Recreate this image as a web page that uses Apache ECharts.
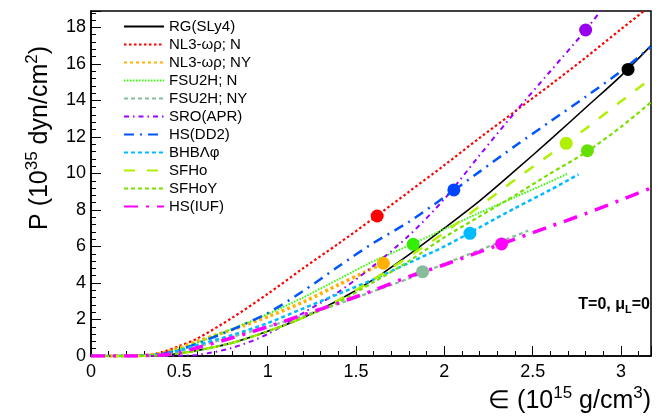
<!DOCTYPE html>
<html><head><meta charset="utf-8">
<script src="https://cdn.jsdelivr.net/npm/echarts@6/dist/echarts.min.js"></script>
<style>html,body{margin:0;padding:0;background:#fff}#c{width:665px;height:416px}</style>
</head><body><div id="c"></div>
<script>
// ---- data (x: energy density 1e15 g/cm^3, y: pressure 1e35 dyn/cm^2) ----
const seriesNames = ['RG(SLy4)','NL3-ωρ; N','NL3-ωρ; NY','FSU2H; N','FSU2H; NY','SRO(APR)','HS(DD2)','BHBΛφ','SFHo','SFHoY','HS(IUF)'];
const sly4 = [[0,0],[0.2,0],[0.3,0.01],[0.4,0.04],[0.5,0.14],[0.6,0.3],[0.8,0.72],[1.0,1.35],[1.2,2.1],[1.4,3.05],[1.6,4.2],[1.8,5.55],[2.0,7.0],[2.2,8.5],[2.4,10.15],[2.6,11.85],[2.8,13.6],[3.0,15.35],[3.17,17.0]];
const nl3N = [[0,0],[0.2,0],[0.3,0.04],[0.4,0.2],[0.5,0.55],[0.6,0.95],[0.8,2.1],[1.0,3.4],[1.2,4.8],[1.4,6.15],[1.6,7.55],[1.8,9.0],[2.0,10.45],[2.2,11.95],[2.4,13.4],[2.6,14.85],[2.8,16.35],[3.0,17.9],[3.15,19.05]];
const nl3NY = [[0,0],[0.2,0],[0.3,0.03],[0.4,0.15],[0.5,0.45],[0.6,0.8],[0.8,1.45],[1.0,2.15],[1.2,2.95],[1.4,3.9],[1.55,4.6],[1.655,5.08]];
const fsu2hN = [[0,0],[0.2,0],[0.3,0.03],[0.4,0.12],[0.5,0.38],[0.6,0.72],[0.8,1.5],[1.0,2.3],[1.2,3.2],[1.4,4.2],[1.6,5.2],[1.8,6.05],[2.0,6.95],[2.2,7.85],[2.4,8.7],[2.6,9.55],[2.7,10.0]];
const fsu2hNY = [[0,0],[0.2,0],[0.3,0.02],[0.4,0.08],[0.5,0.25],[0.6,0.5],[0.8,1.05],[1.0,1.6],[1.2,2.2],[1.4,2.85],[1.6,3.55],[1.8,4.25],[2.0,5.05],[2.2,5.8],[2.475,6.87]];
const sroAPR = [[0,0],[0.4,0],[0.5,0.02],[0.6,0.06],[0.8,0.45],[1.0,1.2],[1.2,2.35],[1.4,3.5],[1.6,4.95],[1.8,6.6],[2.0,8.6],[2.2,11.0],[2.4,13.35],[2.6,15.6],[2.8,17.85],[2.9,19.1]];
const hsDD2 = [[0,0],[0.2,0],[0.3,0.03],[0.4,0.12],[0.5,0.33],[0.6,0.68],[0.8,1.45],[1.0,2.35],[1.2,3.55],[1.4,4.9],[1.6,6.2],[1.8,7.35],[2.0,8.7],[2.2,10.1],[2.4,11.5],[2.6,12.85],[2.8,14.2],[3.0,15.6],[3.17,16.95]];
const bhb = [[0,0],[0.2,0],[0.3,0.02],[0.4,0.1],[0.5,0.3],[0.6,0.6],[0.8,1.15],[1.0,1.8],[1.2,2.6],[1.4,3.4],[1.6,4.2],[1.8,5.1],[2.0,6.0],[2.2,7.05],[2.4,8.1],[2.6,9.1],[2.76,9.95]];
const sfho = [[0,0],[0.2,0],[0.3,0.01],[0.4,0.04],[0.5,0.14],[0.6,0.3],[0.8,0.72],[1.0,1.35],[1.2,2.1],[1.4,3.05],[1.6,4.2],[1.8,5.45],[2.0,6.75],[2.2,8.2],[2.4,9.65],[2.6,11.05],[2.8,12.45],[3.0,13.95],[3.17,15.2]];
const sfhoY = [[0,0],[0.2,0],[0.3,0.01],[0.4,0.04],[0.5,0.14],[0.6,0.3],[0.8,0.72],[1.0,1.35],[1.2,2.1],[1.4,2.95],[1.6,4.05],[1.8,5.2],[2.0,6.5],[2.2,7.65],[2.4,8.8],[2.6,10.0],[2.8,11.15],[3.0,12.55],[3.17,13.9]];
const hsIUF = [[0,0],[0.25,0],[0.3,0.02],[0.4,0.06],[0.5,0.18],[0.6,0.45],[0.8,1.0],[1.0,1.6],[1.2,2.25],[1.4,2.9],[1.6,3.6],[1.8,4.35],[2.0,5.0],[2.2,5.7],[2.4,6.4],[2.6,7.1],[2.8,7.8],[3.0,8.55],[3.17,9.2]];
// maximum-mass points
const maxEps = [3.04, 1.62, 1.655, 1.824, 1.877, 2.80, 2.054, 2.145, 2.69, 2.81, 2.324];
const maxP   = [15.7, 7.67, 5.08, 6.12, 4.62, 17.86, 9.1, 6.72, 11.65, 11.25, 6.14];
const xTicks = {min:0, max:3.17, interval:0.5};
const yTicks = {min:0, max:18.9, interval:2};

// ---- styles ----
const curves = [sly4,nl3N,nl3NY,fsu2hN,fsu2hNY,sroAPR,hsDD2,bhb,sfho,sfhoY,hsIUF];
const lineColors = ['#000000','#ff0000','#ffb000','#33ff00','#88bb99','#9900ff','#0055ff','#00bbff','#b0f000','#77e000','#ff00ff'];
const dotColors  = ['#000000','#ff0000','#ffb000','#33ee00','#88bb99','#9900ee','#0044ff','#00bbff','#b0f000','#66e000','#ff00ff'];
const widths = [1.6,2.2,3.5,2,2.2,2,2.5,2.5,2.5,2.2,3.5];
const dashes = ['solid',[2.5,2.5],[3,3],[1.5,1.5],[4,3],[5,4,1.5,4],[10,6,2,6],[4,3],[11,12],[4,3],[14,8,3,8]];
const FONT = 'Liberation Sans, Arial, Helvetica, sans-serif';

const series = curves.map((d,i)=>({
  name: seriesNames[i], type:'line', data:d, symbol:'none', smooth:0.3, clip:true,
  lineStyle:{color:lineColors[i], width:widths[i], type:dashes[i], cap:'butt'},
  itemStyle:{color:lineColors[i]}, z:2
}));
series.push({
  name:'max', type:'scatter', symbolSize:13, z:5,
  data: maxEps.map((x,i)=>({value:[x,maxP[i]], itemStyle:{color:dotColors[i], opacity:1}}))
});

const chart = echarts.init(document.getElementById('c'));
chart.setOption({
  animation:false,
  backgroundColor:'#fff',
  grid:{left:91,right:14,top:11,bottom:60,show:true,borderColor:'#000',borderWidth:1.5,backgroundColor:'transparent'},
  xAxis:{type:'value',min:xTicks.min,max:xTicks.max,interval:xTicks.interval,
    axisLine:{show:true,onZero:false,lineStyle:{color:'#000',width:1.5}},
    axisTick:{show:true,inside:true,length:10,lineStyle:{color:'#000',width:1}},
    minorTick:{show:true,splitNumber:5,length:5,lineStyle:{color:'#000',width:1}},
    splitLine:{show:false},minorSplitLine:{show:false},
    axisLabel:{color:'#000',fontSize:18,fontFamily:FONT,margin:7,showMaxLabel:false}},
  yAxis:{type:'value',min:yTicks.min,max:yTicks.max,interval:yTicks.interval,
    axisLine:{show:true,onZero:false,lineStyle:{color:'#000',width:1.5}},
    axisTick:{show:true,inside:true,length:10,lineStyle:{color:'#000',width:1}},
    minorTick:{show:true,splitNumber:5,length:5,lineStyle:{color:'#000',width:1}},
    splitLine:{show:false},minorSplitLine:{show:false},
    axisLabel:{color:'#000',fontSize:18,fontFamily:FONT,margin:5,showMaxLabel:false}},
  legend:{orient:'vertical',left:118,top:14,itemWidth:40,itemHeight:14,itemGap:3,
    data:seriesNames,textStyle:{color:'#000',fontSize:15,lineHeight:14,fontFamily:FONT},
    itemStyle:{opacity:0},
    selectedMode:false},
  graphic:[
    {type:'text',x:38,y:138,rotation:Math.PI/2,
     style:{text:'{n|P (10}{s|35}{n| dyn/cm}{s|2}{n|)}',align:'center',verticalAlign:'middle',
       rich:{n:{fontSize:25,fontFamily:FONT,fill:'#000',verticalAlign:'bottom'},
             s:{fontSize:17,fontFamily:FONT,fill:'#000',verticalAlign:'bottom',padding:[0,0,12,0]}}}},
    {type:'text',x:651,y:399,
     style:{text:'{n|∈ (10}{s|15}{n| g/cm}{s|3}{n|)}',align:'right',verticalAlign:'middle',
       rich:{n:{fontSize:25,fontFamily:FONT,fill:'#000',verticalAlign:'bottom'},
             s:{fontSize:17,fontFamily:FONT,fill:'#000',verticalAlign:'bottom',padding:[0,0,12,0]}}}},
    {type:'text',x:650,y:306,
     style:{text:'{b|T=0, μ}{l|L}{b|=0}',align:'right',verticalAlign:'middle',
       rich:{b:{fontSize:16,fontWeight:'bold',fontFamily:FONT,fill:'#000',verticalAlign:'bottom',padding:[0,0,3,0]},
             l:{fontSize:11,fontWeight:'bold',fontFamily:FONT,fill:'#000',verticalAlign:'bottom'}}}}
  ],
  series:series
});
</script></body></html>
